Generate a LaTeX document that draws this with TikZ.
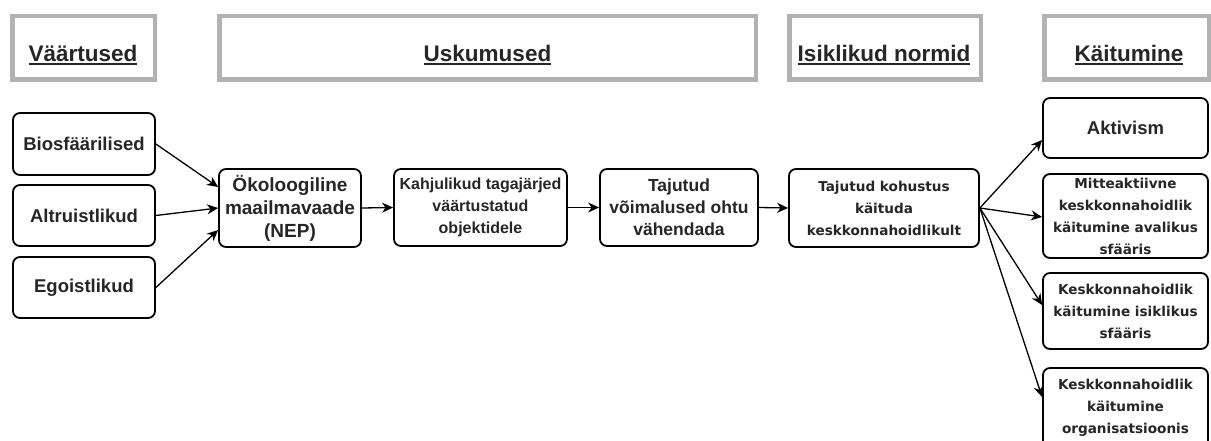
\documentclass[tikz,border=0pt]{standalone}
\usepackage{fontspec}
\setmainfont{Liberation Sans}
\newfontfamily\dvs{DejaVu Sans}
\usetikzlibrary{arrows.meta,calc}
\newcommand\myul[1]{\setbox0\hbox{#1}\rlap{\rule[-3pt]{\wd0}{1.6pt}}\box0}
\begin{document}
\begin{tikzpicture}[x=1pt,y=-1pt,
 hdr/.style={draw=black!30, line width=4.5pt, inner sep=0pt, minimum height=63.5pt},
 htxt/.style={inner sep=0pt, anchor=base, font=\fontsize{22.5}{22.5}\selectfont\bfseries, text=black!85},
 box/.style={draw, line width=1.8pt, rounded corners=7pt, inner sep=0pt, align=center, text=black!85},
 lfont/.style={font=\fontsize{18.5}{23}\selectfont\bfseries},
 rfont/.style={font=\dvs\fontsize{13.6}{22}\selectfont\bfseries},
 arr/.style={line width=1.3pt, -{Stealth[length=11pt,width=10pt,inset=3.5pt]}},
 ]
\useasboundingbox (0,0) rectangle (1211,441);
\clip (0,0) rectangle (1211,441);
\fill[white] (0,0) rectangle (1211,441);
% headers
\node[hdr, minimum width=142.5pt] (hV) at (83.5,48) {};
\node[hdr, minimum width=536.5pt] (hU) at (487.5,48) {};
\node[hdr, minimum width=191.5pt] (hI) at (885,48) {};
\node[hdr, minimum width=164.5pt] (hK) at (1126.5,48) {};
\node[htxt] (tV) at (83,62) {\myul{Väärtused}};
\node[htxt] (tU) at (487.5,62) {\myul{Uskumused}};
\node[htxt] (tI) at (884,62) {\myul{Isiklikud normid}};
\node[htxt] (tK) at (1129,62) {\myul{Käitumine}};
% left
\node[box, lfont, minimum width=142pt, minimum height=62pt] (bio) at (84,144) {Biosfäärilised};
\node[box, lfont, minimum width=142pt, minimum height=61pt] (alt) at (84,215.5) {Altruistlikud};
\node[box, lfont, minimum width=142pt, minimum height=61pt] (ego) at (84,287.5) {Egoistlikud};
\node[box, font=\fontsize{19}{23}\selectfont\bfseries, minimum width=142pt, minimum height=78pt] (nep) at (290,208) {Ökoloogiline\\maailmavaade\\(NEP)};
\node[box, font=\fontsize{16}{22}\selectfont\bfseries, minimum width=173pt, minimum height=77pt] (kah) at (480.5,207.5) {Kahjulikud tagajärjed\\väärtustatud\\objektidele};
\node[box, font=\fontsize{17.5}{22}\selectfont\bfseries, minimum width=158pt, minimum height=77pt] (taj) at (679,207.5) {Tajutud\\võimalused ohtu\\vähendada};
\node[box, rfont, minimum width=190pt, minimum height=78pt] (koh) at (884,208) {Tajutud kohustus\\käituda\\keskkonnahoidlikult};
% right
\node[box, lfont, minimum width=165pt, minimum height=60pt] (akt) at (1125.5,128) {Aktivism};
\node[box, rfont, minimum width=165pt, minimum height=84pt] (mit) at (1125.5,216) {Mitteaktiivne\\keskkonnahoidlik\\käitumine avalikus\\sfääris};
\node[box, rfont, minimum width=165pt, minimum height=76pt] (isk) at (1125.5,311) {Keskkonnahoidlik\\käitumine isiklikus\\sfääris};
\node[box, rfont, minimum width=165pt, minimum height=80pt] (org) at (1125.5,408) {Keskkonnahoidlik\\käitumine\\organisatsioonis};
% arrows
\draw[arr] (bio.east) -- ($(nep.west)+(0,-21)$);
\draw[arr] (alt.east) -- (nep.west);
\draw[arr] (ego.east) -- ($(nep.west)+(0,22)$);
\draw[arr] (nep.east) -- (kah.west);
\draw[arr] (kah.east) -- (taj.west);
\draw[arr] (taj.east) -- (koh.west);
\draw[arr] (koh.east) -- ($(akt.west)+(0,12)$);
\draw[arr] (koh.east) -- ($(mit.west)+(0,1)$);
\draw[arr] (koh.east) -- ($(isk.west)+(0,-6)$);
\draw[arr] (koh.east) -- ($(org.west)+(0,-11)$);
\end{tikzpicture}
\end{document}
